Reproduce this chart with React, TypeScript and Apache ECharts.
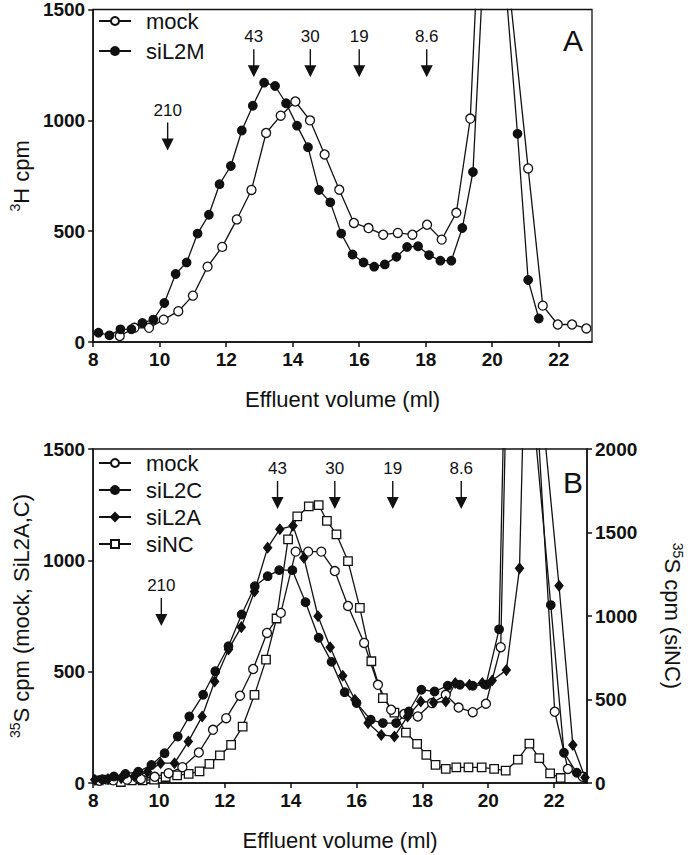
import React, { useEffect, useRef } from "react";
import * as echarts from "echarts";

const FONT = '"Liberation Sans", Arial, Helvetica, sans-serif';
const INK = "#111111";

// ---------- Panel A data ----------
const mockA_x = [8.8, 9.24, 9.68, 10.12, 10.56, 11.0, 11.44, 11.88, 12.32, 12.76, 13.2, 13.64, 14.08, 14.52, 14.96, 15.4, 15.84, 16.28, 16.72, 17.16, 17.6, 18.04, 18.48, 18.92, 19.34, 19.76, 20.2, 21.08, 21.52, 21.97, 22.4, 22.83];
const mockA_y = [27, 64, 64, 101, 139, 209, 340, 429, 553, 686, 943, 1021, 1085, 1000, 846, 687, 537, 514, 484, 492, 484, 529, 462, 583, 1008, 2370, 2044, 783, 164, 79, 79, 61];

const siL2M_x = [8.16, 8.49, 8.82, 9.15, 9.48, 9.81, 10.14, 10.48, 10.81, 11.14, 11.48, 11.8, 12.14, 12.47, 12.8, 13.14, 13.47, 13.8, 14.13, 14.46, 14.79, 15.13, 15.46, 15.8, 16.13, 16.45, 16.77, 17.12, 17.44, 17.77, 18.1, 18.44, 18.77, 19.1, 19.42, 19.75, 20.08, 20.42, 20.76, 21.08, 21.4];
const siL2M_y = [42, 30, 57, 57, 86, 101, 176, 307, 359, 489, 574, 712, 794, 954, 1066, 1170, 1155, 1077, 976, 879, 686, 630, 489, 395, 359, 340, 350, 384, 429, 432, 392, 367, 367, 514, 767, 1735, 2500, 1578, 939, 280, 106];

// ---------- Panel B data ----------
const mockB_x = [8.19, 8.61, 9.03, 9.45, 9.87, 10.29, 10.71, 11.21, 11.64, 12.04, 12.46, 12.86, 13.28, 13.7, 14.15, 14.53, 14.93, 15.34, 15.74, 16.23, 16.65, 17.05, 17.45, 17.86, 18.29, 18.71, 19.1, 19.53, 19.93, 20.38, 20.8, 21.2, 22.02, 22.42, 22.87];
const mockB_y = [10, 12, 15, 18, 28, 44, 71, 137, 239, 291, 392, 512, 674, 764, 1039, 1039, 1039, 952, 795, 629, 441, 329, 310, 299, 359, 396, 339, 318, 356, 610, 3500, 2378, 320, 63, 28];

const siL2C_x = [8.28, 8.63, 8.98, 9.37, 9.77, 10.17, 10.57, 10.92, 11.34, 11.71, 12.11, 12.51, 12.91, 13.3, 13.65, 14.05, 14.45, 14.85, 15.24, 15.64, 16.0, 16.43, 16.8, 17.2, 17.59, 17.97, 18.37, 18.77, 19.14, 19.53, 19.93, 20.33, 20.73, 21.1, 21.9, 22.3, 22.69];
const siL2C_y = [17, 29, 41, 51, 81, 134, 209, 299, 396, 502, 614, 757, 884, 929, 956, 956, 812, 652, 544, 408, 359, 284, 269, 269, 321, 419, 411, 437, 441, 437, 441, 690, 3400, 2100, 799, 136, 46];

const siL2A_x = [8.05, 8.45, 8.85, 9.25, 9.65, 10.05, 10.47, 10.89, 11.31, 11.69, 12.11, 12.5, 12.9, 13.3, 13.67, 14.07, 14.4, 14.83, 15.2, 15.58, 15.95, 16.35, 16.75, 17.15, 17.55, 17.95, 18.34, 18.71, 19.0, 19.43, 19.82, 20.12, 20.55, 20.95, 21.35, 21.7, 22.15, 22.57, 22.94];
const siL2A_y = [15, 18, 22, 30, 50, 89, 89, 186, 299, 456, 600, 700, 860, 1057, 1140, 1155, 1012, 749, 610, 482, 374, 269, 216, 209, 299, 366, 362, 366, 449, 441, 449, 460, 507, 964, 3350, 1580, 886, 171, 25];

// siNC on right axis (0-2000)
const siNC_x = [8.17, 8.5, 8.84, 9.17, 9.5, 9.85, 10.2, 10.55, 10.9, 11.23, 11.53, 11.85, 12.19, 12.54, 12.9, 13.25, 13.57, 13.92, 14.2, 14.55, 14.85, 15.1, 15.39, 15.74, 16.1, 16.45, 16.8, 17.15, 17.5, 17.84, 18.12, 18.4, 18.71, 19.03, 19.4, 19.8, 20.18, 20.53, 20.9, 21.25, 21.55, 21.88, 22.2];
const siNC_y = [16, 20, 6, 16, 16, 20, 36, 46, 55, 70, 115, 165, 228, 338, 528, 739, 985, 1459, 1596, 1656, 1664, 1570, 1489, 1329, 1049, 729, 508, 422, 302, 234, 168, 108, 84, 94, 94, 94, 84, 74, 140, 236, 149, 58, 30];

// ---------- Molecular weight markers (arrows) ----------
const markA_labels = ["210", "43", "30", "19", "8.6"];
const markA_x = [10.24, 12.83, 14.53, 16.0, 18.03];
const markA_y = [927, 1258, 1258, 1258, 1258];

const markB_labels = ["210", "43", "30", "19", "8.6"];
const markB_x = [10.07, 13.6, 15.34, 17.1, 19.18];
const markB_y = [768, 1293, 1293, 1293, 1293];

const xTicks = { min: 8, max: 23, interval: 2 };
const yLeftTicks = { min: 0, max: 1500, interval: 500 };
const yRightTicks = { min: 0, max: 2000, interval: 500 };

const zip = (xs: number[], ys: number[]) => xs.map((x, i) => [x, ys[i]]);

const ARROW = "path://M5.3,0 L6.7,0 L6.7,16 L12,16 L6,28 L0,16 L5.3,16 Z";

export default function App() {
  const ref = useRef<HTMLDivElement>(null);

  useEffect(() => {
    if (!ref.current) return;
    const chart = echarts.init(ref.current, null, { renderer: "svg" });

    const axisLine = { show: true, lineStyle: { color: INK, width: 1.5 } };
    const axisTick = { show: true, length: 5, lineStyle: { color: INK, width: 1.5 } };
    const tickLabel = {
      fontFamily: FONT,
      fontSize: 19,
      fontWeight: "bold" as const,
      color: INK,
      margin: 8,
      showMaxLabel: false,
      formatter: (v: number) => String(v),
    };
    const yTickLabel = { ...tickLabel, showMaxLabel: true };
    const nameStyle = () => ({
      fontFamily: FONT,
      fontSize: 22,
      color: INK,
      rich: {
        s: { fontFamily: FONT, fontSize: 14, color: INK, verticalAlign: "top", lineHeight: 14 },
        n: { fontFamily: FONT, fontSize: 22, color: INK, lineHeight: 26 },
      },
    });

    const lineSeries = (name: string, data: number[][], xi: number, yi: number, symbol: string, size: any, filled: boolean) => ({
      type: "line",
      name,
      data,
      xAxisIndex: xi,
      yAxisIndex: yi,
      symbol,
      symbolSize: size,
      showAllSymbol: true,
      clip: true,
      lineStyle: { color: INK, width: 1.3 },
      itemStyle: { color: filled ? INK : "#ffffff", borderColor: INK, borderWidth: 1.3, opacity: 1 },
      emphasis: { disabled: true },
    });

    const arrowSeries = (labels: string[], xs: number[], ys: number[], xi: number, yi: number) => ({
      type: "scatter",
      name: "markers" + xi,
      xAxisIndex: xi,
      yAxisIndex: yi,
      symbol: ARROW,
      symbolSize: [12, 28],
      itemStyle: { color: INK, opacity: 1 },
      silent: true,
      z: 5,
      label: {
        show: true,
        position: "top",
        distance: 4,
        formatter: "{b}",
        fontFamily: FONT,
        fontSize: 17,
        color: INK,
        opacity: 1,
      },
      data: labels.map((l, i) => ({ name: l, value: [xs[i], ys[i]] })),
    });

    const legendBase = {
      orient: "vertical",
      left: 93,
      itemWidth: 32,
      itemHeight: 10,
      selectedMode: false,
      textStyle: { fontFamily: FONT, fontSize: 22, color: INK, padding: [0, 0, 0, 10] },
    };

    chart.setOption({
      animation: false,
      backgroundColor: "#ffffff",
      title: [
        { text: "A", left: 558, top: 20, textStyle: { fontFamily: FONT, fontSize: 30, fontWeight: "normal", color: INK } },
        { text: "B", left: 558, top: 462, textStyle: { fontFamily: FONT, fontSize: 30, fontWeight: "normal", color: INK } },
      ],
      legend: [
        { ...legendBase, top: 5, itemGap: 8, data: ["mock", "siL2M"] },
        { ...legendBase, top: 447, itemGap: 5, data: ["mock", "siL2C", "siL2A", "siNC"] },
      ],
      grid: [
        { left: 88, top: 7, width: 504, height: 335, show: true, borderColor: INK, borderWidth: 1.3, backgroundColor: "transparent" },
        { left: 88, top: 449, width: 502, height: 334, show: true, borderColor: INK, borderWidth: 1.3, backgroundColor: "transparent" },
      ],
      xAxis: [0, 1].map((gi) => ({
        type: "value",
        gridIndex: gi,
        ...xTicks,
        axisLine,
        axisTick,
        splitLine: { show: false },
        axisLabel: { ...tickLabel },
        name: "Effluent volume (ml)",
        nameLocation: "middle",
        nameGap: 46,
        nameTextStyle: { fontFamily: FONT, fontSize: 22, color: INK },
      })),
      yAxis: [
        {
          type: "value",
          gridIndex: 0,
          ...yLeftTicks,
          axisLine,
          axisTick,
          splitLine: { show: false },
          axisLabel: { ...yTickLabel },
          name: "{s|3}{n|H cpm}",
          nameLocation: "middle",
          nameRotate: 90,
          nameGap: 58,
          nameTextStyle: nameStyle(),
        },
        {
          type: "value",
          gridIndex: 1,
          ...yLeftTicks,
          axisLine,
          axisTick,
          splitLine: { show: false },
          axisLabel: { ...yTickLabel },
          name: "{s|35}{n|S cpm (mock, SiL2A,C)}",
          nameLocation: "middle",
          nameRotate: 90,
          nameGap: 58,
          nameTextStyle: nameStyle(),
        },
        {
          type: "value",
          gridIndex: 1,
          position: "right",
          ...yRightTicks,
          axisLine,
          axisTick,
          splitLine: { show: false },
          axisLabel: { ...yTickLabel },
          name: "{s|35}{n|S cpm (siNC)}",
          nameLocation: "middle",
          nameRotate: -90,
          nameGap: 72,
          nameTextStyle: nameStyle(),
        },
      ],
      series: [
        lineSeries("mock", zip(mockA_x, mockA_y), 0, 0, "circle", 9, false),
        lineSeries("siL2M", zip(siL2M_x, siL2M_y), 0, 0, "circle", 8.5, true),
        arrowSeries(markA_labels, markA_x, markA_y, 0, 0),
        lineSeries("siNC", zip(siNC_x, siNC_y), 1, 2, "rect", 8.5, false),
        lineSeries("mock", zip(mockB_x, mockB_y), 1, 1, "circle", 9, false),
        lineSeries("siL2C", zip(siL2C_x, siL2C_y), 1, 1, "circle", 8.5, true),
        lineSeries("siL2A", zip(siL2A_x, siL2A_y), 1, 1, "diamond", [8, 10], true),
        arrowSeries(markB_labels, markB_x, markB_y, 1, 1),
      ],
    });

    return () => chart.dispose();
  }, []);

  return <div ref={ref} style={{ position: "absolute", left: 0, top: 0, width: 693, height: 855, background: "#fff" }} />;
}
